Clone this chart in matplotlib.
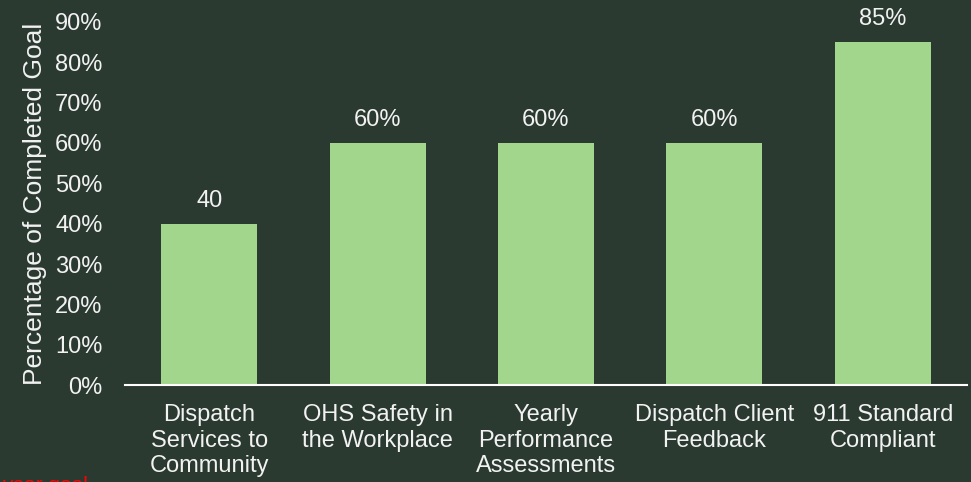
import matplotlib
matplotlib.use('Agg')
from matplotlib import pyplot as plt

categories = ['Dispatch\nServices to\nCommunity', 'OHS Safety in\nthe Workplace',
              'Yearly\nPerformance\nAssessments', 'Dispatch Client\nFeedback',
              '911 Standard\nCompliant']
values = [40, 60, 60, 60, 85]
value_labels = ['40', '60%', '60%', '60%', '85%']
y_ticks = [0, 10, 20, 30, 40, 50, 60, 70, 80, 90]

bg = '#2b3a31'
bar_color = '#a2d68d'
txt = '#f2f2f2'

plt.rcParams['font.family'] = ['Liberation Sans', 'DejaVu Sans']

fig = plt.figure(figsize=(9.71, 4.82), dpi=100)
fig.patch.set_facecolor(bg)
ax = fig.add_axes([0.1287, 0.2012, 0.8672, 0.7532])
ax.set_facecolor(bg)

x = range(len(categories))
bars = ax.bar(x, values, width=0.57, color=bar_color)

for xi, v, lab in zip(x, values, value_labels):
    ax.annotate(lab, (xi, v), xytext=(0, 12), textcoords='offset points',
                ha='center', va='baseline', color=txt, fontsize=17)

ax.set_xlim(-0.5, 4.5)
ax.set_ylim(0, 90)
ax.set_yticks(y_ticks)
ax.set_yticklabels(['{}%'.format(t) for t in y_ticks])
ax.set_xticks(list(x))
ax.set_xticklabels(categories, linespacing=1.2)

for s in ['top', 'right', 'left']:
    ax.spines[s].set_visible(False)
ax.spines['bottom'].set_color('white')
ax.spines['bottom'].set_linewidth(1.5)
ax.tick_params(axis='both', length=0, colors=txt, labelsize=17)
ax.tick_params(axis='y', pad=16)
ax.tick_params(axis='x', pad=14)

ax.set_ylabel('Percentage of Completed Goal', color=txt, fontsize=19, labelpad=6)

# red footnote cut at the bottom edge
fig.text(0.002, -0.019, 'year goal', color='#ff0000', fontsize=15, va='baseline')

plt.savefig('out.png', facecolor=bg)
